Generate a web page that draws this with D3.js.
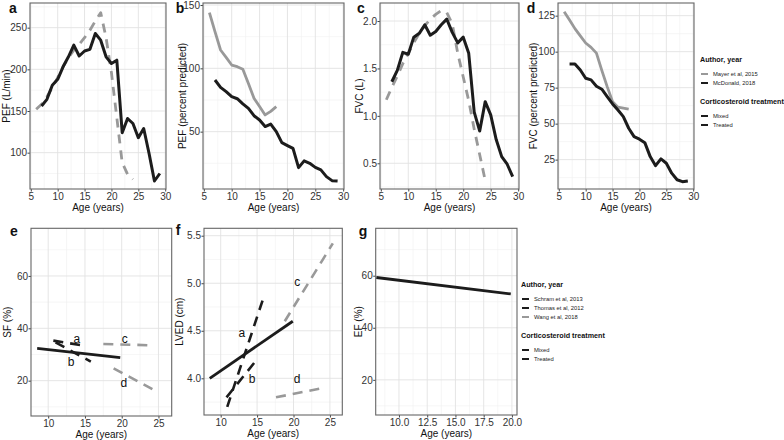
<!DOCTYPE html>
<html><head><meta charset="utf-8">
<script src="https://cdn.jsdelivr.net/npm/d3@7"></script>
<style>body{margin:0;background:#fff}svg{display:block;font-family:"Liberation Sans",Arial,sans-serif}</style>
</head><body><svg id="c" width="784" height="440"></svg>
<script>
// ---------- DATA ----------
const agesMcDonald = [7,8,9,10,11,12,13,14,15,16,17,18,19,20,21,22,23,24,25,26,27,28,29];
const agesMayer = [6,7,8,9,10,11,12,13,14,15,16,17,18];
const agesMayerAbs = [6,7,8,9,10,11,12,13,14,15,16,17,18,19,20,21,22,23,24];
// a: PEF (L/min)
const pefMcDonald = [156,164,181,188,203,215,229,216,222,224,243,235,215,207,211,124,141,135,118,129,99,66,75];
const pefMayer = [152,158,167,178,190,203,214,223,230,238,247,258,268,238,196,142,88,74,68];
// b: PEF (percent predicted)
const pefPctMcDonald = [90.8,85,81.6,77.6,76,72,68.4,62.6,59.2,54,56,50,41.3,39,36.8,21.6,26.9,25,21.8,19.8,14.5,11.3,11];
const pefPctMayer = [144,129,114.5,108.7,102.6,101.3,99.3,88,76.4,69.8,63.2,66,69.8];
// c: FVC (L)
const fvcMcDonald = [1.36,1.48,1.67,1.65,1.83,1.87,1.96,1.85,1.89,1.96,2.02,1.88,1.77,1.83,1.66,1.04,0.84,1.15,1.01,0.75,0.57,0.49,0.36];
const fvcMayer = [1.17,1.3,1.42,1.55,1.66,1.77,1.87,1.95,2.02,2.07,2.11,2.09,1.97,1.66,1.41,1.16,0.86,0.59,0.32];
// d: FVC (percent predicted)
const fvcPctMcDonald = [91.5,91.5,87.3,81.5,80.4,76,73.9,68.8,63.7,59.5,54.9,46.8,41,39.2,36.8,27.1,20.8,25.5,22.5,15.6,11,9.7,10.2];
const fvcPctMayer = [127.8,122,116,111,106,103,99,87,75.7,65.3,61.4,60.7,60];
// e: SF (%) segments [x0, y0, x1, y1]
const sfSchram = [8.5, 32.3, 19.8, 28.8];
const sfThomasA = [10.7, 35.3, 14.6, 33.5];
const sfThomasB = [11.0, 34.6, 15.8, 27.3];
const sfWangC = [17.5, 34.0, 24.2, 33.5];
const sfWangD = [18.9, 24.7, 24.8, 15.8];
const sfLabels = ["a","b","c","d"];
const sfLabelX = [13.9, 13.1, 20.4, 20.3];
const sfLabelY = [35.9, 27.3, 35.9, 19.1];
// f: LVED (cm)
const lvedSchram = [8.5, 4.0, 19.9, 4.6];
const lvedThomasA = [10.9, 3.70, 15.8, 4.83];
const lvedThomasB = [10.8, 3.80, 15.0, 4.20];
const lvedWangC = [18.8, 4.60, 25.4, 5.42];
const lvedWangD = [17.6, 3.80, 24.2, 3.90];
const lvedLabelX = [12.9, 14.3, 20.5, 20.5];
const lvedLabelY = [4.48, 4.00, 5.02, 4.00];
// g: EF (%)
const efSchram = [8.0, 59.3, 19.9, 53.0];
// legends
const legendTopAuthors = ["Mayer et al, 2015","McDonald, 2018"];
const legendBottomAuthors = ["Schram et al, 2013","Thomas et al, 2012","Wang et al, 2018"];
const treatments = ["Mixed","Treated"];

// ---------- DRAW ----------
const svg = d3.select("#c");
const BLACK = "#1c1c1c", GRAY = "#999999";

function panel(o){
  const x = d3.scaleLinear().domain(o.xd).range([o.x0,o.x1]);
  const y = d3.scaleLinear().domain(o.yd).range([o.y1,o.y0]);
  const g = svg.append("g");
  const grid = g.append("g");
  const inX = v => v>=o.xd[0] && v<=o.xd[1];
  const inY = v => v>=o.yd[0] && v<=o.yd[1];
  grid.selectAll(".xm").data(o.xm.filter(inX)).join("line").attr("x1",x).attr("x2",x).attr("y1",o.y0).attr("y2",o.y1).attr("stroke","#f0f0f0").attr("stroke-width",0.6);
  grid.selectAll(".ym").data(o.ym.filter(inY)).join("line").attr("y1",y).attr("y2",y).attr("x1",o.x0).attr("x2",o.x1).attr("stroke","#f0f0f0").attr("stroke-width",0.6);
  grid.selectAll(".xt").data(o.xt.filter(inX)).join("line").attr("x1",x).attr("x2",x).attr("y1",o.y0).attr("y2",o.y1).attr("stroke","#e2e2e2").attr("stroke-width",0.9);
  grid.selectAll(".yt").data(o.yt.filter(inY)).join("line").attr("y1",y).attr("y2",y).attr("x1",o.x0).attr("x2",o.x1).attr("stroke","#e2e2e2").attr("stroke-width",0.9);
  // axes
  const ax = g.append("g").attr("transform",`translate(0,${o.y1})`)
    .call(d3.axisBottom(x).tickValues(o.xt).tickFormat(d3.format(o.xf||"d")).tickSize(2.5).tickPadding(1));
  const ay = g.append("g").attr("transform",`translate(${o.x0},0)`)
    .call(d3.axisLeft(y).tickValues(o.yt).tickFormat(d3.format(o.yf||"d")).tickSize(2.5).tickPadding(0.5));
  [ax,ay].forEach(a=>{a.select(".domain").remove();a.selectAll("line").attr("stroke","#444");
    a.selectAll("text").attr("fill","#333").attr("font-size",10).attr("font-family","Liberation Sans, Arial");});
  // border
  g.append("rect").attr("x",o.x0).attr("y",o.y0).attr("width",o.x1-o.x0).attr("height",o.y1-o.y0)
    .attr("fill","none").attr("stroke","#666").attr("stroke-width",1.1);
  // titles
  g.append("text").attr("x",(o.x0+o.x1)/2).attr("y",o.y1+22).attr("text-anchor","middle")
    .attr("font-size",10).attr("fill","#111").text("Age (years)");
  g.append("text").attr("transform",`translate(${o.ytx},${(o.y0+o.y1)/2}) rotate(-90)`).attr("text-anchor","middle")
    .attr("dy","0.35em").attr("font-size",10).attr("fill","#111").text(o.ytitle);
  g.append("text").attr("x",o.lx).attr("y",o.ly).attr("text-anchor","middle").attr("dy","0.35em")
    .attr("font-size",14).attr("font-weight","bold").attr("fill","#111").text(o.label);
  return {x,y,g};
}

function series(p, xs, ys, color, dashed, w){
  const line = d3.line().x((d,i)=>p.x(xs[i])).y(d=>p.y(d));
  p.g.append("path").attr("d",line(ys)).attr("fill","none").attr("stroke",color)
    .attr("stroke-width",w||3).attr("stroke-linejoin","round")
    .attr("stroke-dasharray",dashed?"9,7":null);
}
function seg(p, s, color, dashed, w){
  p.g.append("line").attr("x1",p.x(s[0])).attr("y1",p.y(s[1])).attr("x2",p.x(s[2])).attr("y2",p.y(s[3]))
    .attr("stroke",color).attr("stroke-width",w||2.6).attr("stroke-dasharray",dashed?"10,7":null);
}
function labels(p, xs, ys){
  p.g.selectAll(".lab").data(sfLabels).join("text").attr("x",(d,i)=>p.x(xs[i])).attr("y",(d,i)=>p.y(ys[i]))
    .attr("text-anchor","middle").attr("dy","0.35em").attr("font-size",12).attr("fill","#111").text(d=>d);
}

const topX = [5,10,15,20,25,30], topXm=[7.5,12.5,17.5,22.5,27.5], topXd=[4.85,30.15];
const pa = panel({x0:30,x1:166,y0:3,y1:189,xd:topXd,yd:[56.4,279.6],xt:topX,xm:topXm,yt:[100,150,200,250],ym:[75,125,175,225,275],ytitle:"PEF (L/min)",ytx:6,label:"a",lx:13,ly:8});
series(pa, agesMayerAbs, pefMayer, GRAY, true, 2.8);
series(pa, agesMcDonald, pefMcDonald, BLACK, false, 3);

const pb = panel({x0:203,x1:344,y0:3,y1:189,xd:topXd,yd:[4.7,151.6],xt:topX,xm:topXm,yt:[50,100,150],ym:[25,75,125],ytitle:"PEF (percent predicted)",ytx:182,label:"b",lx:180,ly:8});
series(pb, agesMayer, pefPctMayer, GRAY, false, 2.8);
series(pb, agesMcDonald, pefPctMcDonald, BLACK, false, 3);

const pc = panel({x0:380,x1:519,y0:3,y1:189,xd:topXd,yd:[0.229,2.19],xt:topX,xm:topXm,yt:[0.5,1.0,1.5,2.0],ym:[0.25,0.75,1.25,1.75],yf:".1f",ytitle:"FVC (L)",ytx:359,label:"c",lx:361,ly:8});
series(pc, agesMayerAbs, fvcMayer, GRAY, true, 2.8);
series(pc, agesMcDonald, fvcMcDonald, BLACK, false, 3);

const pd = panel({x0:558,x1:694,y0:3,y1:189,xd:topXd,yd:[4.6,133.8],xt:topX,xm:topXm,yt:[25,50,75,100,125],ym:[12.5,37.5,62.5,87.5,112.5],ytitle:"FVC (percent predicted)",ytx:533,label:"d",lx:531,ly:8});
series(pd, agesMayer, fvcPctMayer, GRAY, false, 2.8);
series(pd, agesMcDonald, fvcPctMcDonald, BLACK, false, 3);

const pe = panel({x0:31,x1:171.7,y0:228.3,y1:416,xd:[7.66,26.8],yd:[6.5,78.2],xt:[10,15,20,25],xm:[7.5,12.5,17.5,22.5],yt:[20,40,60],ym:[10,30,50,70],ytitle:"SF (%)",ytx:7,label:"e",lx:14,ly:231});
seg(pe, sfWangC, GRAY, true); seg(pe, sfWangD, GRAY, true);
seg(pe, sfThomasA, BLACK, true); seg(pe, sfThomasB, BLACK, true);
seg(pe, sfSchram, BLACK, false, 2.8);
labels(pe, sfLabelX, sfLabelY);

const pf = panel({x0:204,x1:342.3,y0:228.3,y1:415,xd:[7.71,26.7],yd:[3.614,5.578],xt:[10,15,20,25],xm:[7.5,12.5,17.5,22.5],yt:[4.0,4.5,5.0,5.5],ym:[3.75,4.25,4.75,5.25],yf:".1f",ytitle:"LVED (cm)",ytx:179,label:"f",lx:178,ly:230});
seg(pf, lvedWangC, GRAY, true); seg(pf, lvedWangD, GRAY, true);
seg(pf, lvedThomasA, BLACK, true); seg(pf, lvedThomasB, BLACK, true);
seg(pf, lvedSchram, BLACK, false, 2.8);
labels(pf, lvedLabelX, lvedLabelY);

const pg = panel({x0:375.7,x1:517,y0:228.3,y1:415,xd:[7.94,20.45],yd:[6.5,78.2],xt:[10,12.5,15,17.5,20],xm:[8.75,11.25,13.75,16.25,18.75],xf:".1f",yt:[20,40,60],ym:[10,30,50,70],ytitle:"EF (%)",ytx:358,label:"g",lx:363,ly:231});
seg(pg, efSchram, BLACK, false, 2.8);

// legends
function legend(x, y, authors, authorColors){
  const g = svg.append("g").attr("font-family","Liberation Sans, Arial");
  g.append("text").attr("x",x).attr("y",y).attr("font-size",7.2).attr("font-weight","bold").attr("fill","#111").text("Author, year");
  authors.forEach((a,i)=>{
    const yy = y+12+i*9;
    g.append("line").attr("x1",x+1).attr("x2",x+8).attr("y1",yy).attr("y2",yy).attr("stroke",authorColors[i]).attr("stroke-width",2);
    g.append("text").attr("x",x+13).attr("y",yy).attr("dy","0.35em").attr("font-size",5.8).attr("fill","#222").text(a);
  });
  const y2 = y+12+authors.length*9+12;
  g.append("text").attr("x",x).attr("y",y2).attr("font-size",7.2).attr("font-weight","bold").attr("fill","#111").text("Corticosteroid treatment");
  treatments.forEach((t,i)=>{
    const yy = y2+12+i*9;
    g.append("line").attr("x1",x+1).attr("x2",x+8).attr("y1",yy).attr("y2",yy).attr("stroke",BLACK).attr("stroke-width",2);
    g.append("text").attr("x",x+13).attr("y",yy).attr("dy","0.35em").attr("font-size",5.8).attr("fill","#222").text(t);
  });
}
legend(700, 62, legendTopAuthors, [GRAY, BLACK]);
legend(521, 287, legendBottomAuthors, [BLACK, BLACK, GRAY]);
</script></body></html>
